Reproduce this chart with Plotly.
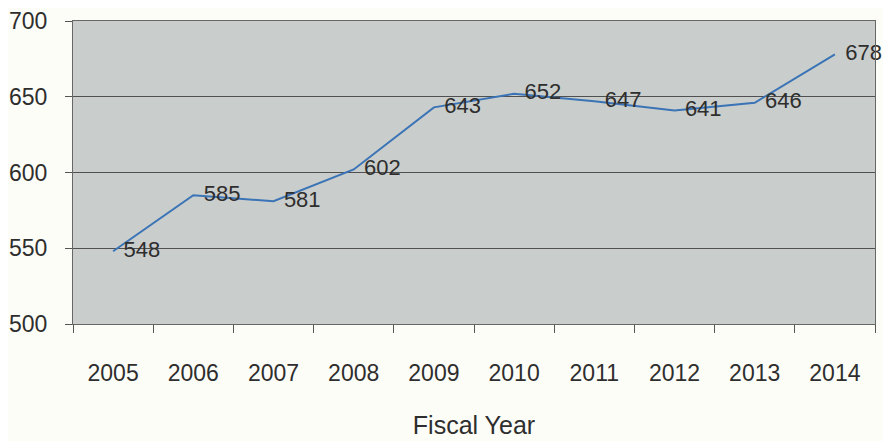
import plotly.graph_objects as go

years = ["2005", "2006", "2007", "2008", "2009", "2010", "2011", "2012", "2013", "2014"]
values = [548, 585, 581, 602, 643, 652, 647, 641, 646, 678]
y_ticks = [500, 550, 600, 650, 700]

fig = go.Figure()
fig.add_trace(go.Scatter(
    x=years, y=values, mode="lines+markers+text",
    line=dict(color="#3b74b6", width=2),
    marker=dict(size=15, color="rgba(0,0,0,0)"),
    text=[str(v) for v in values], textposition="middle right",
    textfont=dict(family="Liberation Sans, Arial, sans-serif", size=22, color="#2e2e2e"),
    cliponaxis=False, showlegend=False,
))

fig.update_layout(
    width=883, height=433,
    margin=dict(l=65, r=16, t=13, b=117),
    paper_bgcolor="#fdfdf7",
    plot_bgcolor="#c9cdcc",
    font=dict(family="Liberation Sans, Arial, sans-serif", size=23, color="#2e2e2e"),
)
fig.update_xaxes(
    type="category", range=[-0.5, len(years) - 0.5], tickson="boundaries",
    ticks="outside", ticklen=8,
    tickcolor="#555", showline=True, linecolor="#666", mirror=True,
    showgrid=False, ticklabelstandoff=28, automargin=False,
    title=dict(text="Fiscal Year", font=dict(size=25, color="#2e2e2e"), standoff=31),
)
fig.update_yaxes(
    range=[500, 700], tickvals=y_ticks, ticks="outside", ticklen=7,
    tickcolor="#555", showline=True, linecolor="#666", mirror=True,
    showgrid=True, gridcolor="#505050", gridwidth=1, zeroline=False,
    ticklabelstandoff=13, automargin=False,
)
fig.write_html("out.html")
